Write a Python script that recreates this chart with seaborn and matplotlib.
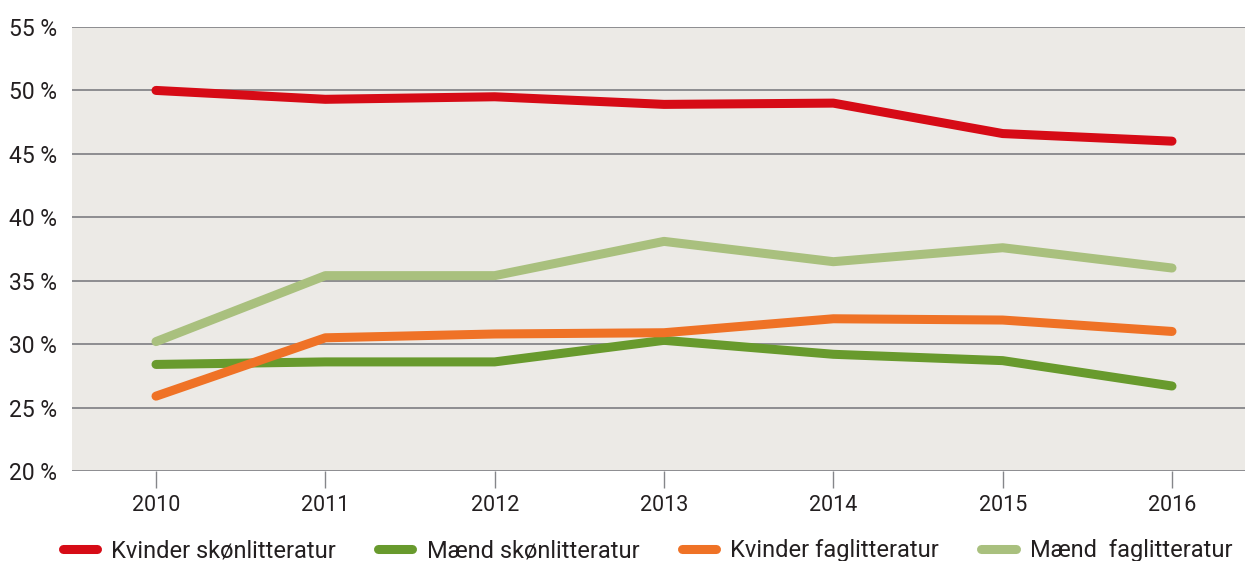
import matplotlib
matplotlib.use("Agg")
import matplotlib.pyplot as plt
import seaborn as sns
import pandas as pd

years = [2010, 2011, 2012, 2013, 2014, 2015, 2016]
kvinder_skon = [50.0, 49.3, 49.5, 48.9, 49.0, 46.6, 46.0]
maend_skon = [28.4, 28.6, 28.6, 30.3, 29.2, 28.7, 26.7]
kvinder_fag = [25.9, 30.5, 30.8, 30.9, 32.0, 31.9, 31.0]
maend_fag = [30.2, 35.4, 35.4, 38.1, 36.5, 37.6, 36.0]

series_names = ["Kvinder skønlitteratur", "Mænd skønlitteratur",
                "Kvinder faglitteratur", "Mænd  faglitteratur"]
series_values = [kvinder_skon, maend_skon, kvinder_fag, maend_fag]
colors = ["#D60B16", "#689A2D", "#EF7226", "#A9C07E"]
y_ticks = [20, 25, 30, 35, 40, 45, 50, 55]

rows = []
for name, vals in zip(series_names, series_values):
    for yr, v in zip(years, vals):
        rows.append({"År": yr, "Andel": v, "Serie": name})
df = pd.DataFrame(rows)

sns.set_style("white")
plt.rcParams["font.family"] = ["Roboto", "DejaVu Sans"]

fig = plt.figure(figsize=(12.45, 5.61), dpi=100)
ax = fig.add_axes([72 / 1245, 1 - 471 / 561, (1245 - 72) / 1245, (471 - 27) / 561])
ax.set_facecolor("#ECEAE6")

sns.lineplot(data=df, x="År", y="Andel", hue="Serie", hue_order=series_names,
             palette=colors, linewidth=6.5, ax=ax, legend=False,
             solid_capstyle="round", solid_joinstyle="round")

ax.set_xlim(2010 - 84 / 169.33, 2016 + 73 / 169.33)
ax.set_ylim(20, 55)
ax.set_yticks(y_ticks)
ax.set_yticklabels([f"{t} %" for t in y_ticks])
ax.set_xticks(years)
ax.set_xticklabels([str(y) for y in years])
ax.yaxis.grid(True, color="#85868A", linewidth=1.3)
ax.set_axisbelow(True)
for s in ax.spines.values():
    s.set_visible(False)
ax.tick_params(axis="y", left=False, length=0, pad=11, labelsize=16.5,
               labelcolor="#231F20")
ax.tick_params(axis="x", bottom=True, length=12, width=1, color="#85868A",
               direction="out", pad=5, labelsize=15.5, labelcolor="#231F20")
ax.set_xlabel("")
ax.set_ylabel("")

handles = [plt.Line2D([0], [0], color=c, linewidth=6.5, solid_capstyle="round")
           for c in colors]
fig.legend(handles, series_names, loc="lower center", ncol=4, frameon=False,
           bbox_to_anchor=(0.52, -0.04), fontsize=17, handlelength=1.45,
           columnspacing=1.8, handletextpad=0.6, labelcolor="#231F20")

fig.savefig("out.png", dpi=100)
